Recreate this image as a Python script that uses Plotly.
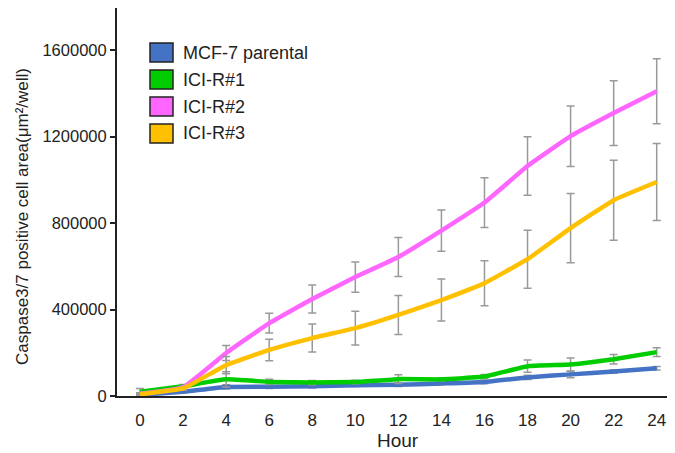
import plotly.graph_objects as go

hours = [0, 2, 4, 6, 8, 10, 12, 14, 16, 18, 20, 22, 24]
series_names = ["MCF-7 parental", "ICI-R#1", "ICI-R#2", "ICI-R#3"]
mcf7 = [5000, 20000, 42000, 43000, 45000, 50000, 52000, 58000, 65000, 86000, 100000, 113000, 128000]
mcf7_err = [5000, 5000, 10000, 8000, 8000, 6000, 8000, 6000, 8000, 10000, 15000, 8000, 8000]
icir1 = [20000, 45000, 77000, 65000, 62000, 65000, 78000, 77000, 90000, 138000, 146000, 170000, 203000]
icir1_err = [15000, 8000, 35000, 12000, 10000, 8000, 20000, 8000, 10000, 28000, 30000, 22000, 20000]
icir2 = [10000, 40000, 199000, 337000, 449000, 550000, 643000, 765000, 895000, 1064000, 1202000, 1309000, 1410000]
icir2_err = [5000, 8000, 35000, 46000, 65000, 70000, 90000, 95000, 115000, 135000, 140000, 150000, 150000]
icir3 = [8000, 35000, 143000, 213000, 268000, 314000, 375000, 444000, 522000, 633000, 777000, 906000, 990000]
icir3_err = [5000, 8000, 40000, 50000, 65000, 78000, 90000, 97000, 104000, 134000, 160000, 185000, 178000]
y_ticks = [0, 400000, 800000, 1200000, 1600000]

colors = ["#4472C4", "#00CC00", "#FF66FF", "#FFC000"]
values = [mcf7, icir1, icir2, icir3]
errors = [mcf7_err, icir1_err, icir2_err, icir3_err]

FONT = "Liberation Sans, Arial, sans-serif"
TXT = "#222222"

# page body has a default 8px margin: the figure starts at (8, 8) in the window
OFF = 8
W, H = 675 - OFF, 453 - OFF
L, R, T, B = 117 - OFF, 0, 8 - OFF, 453 - 396
pw, ph = W - L - R, H - T - B


def px_x(x):
    return (x - OFF - L) / pw


def px_y(y):
    return (H - B - (y - OFF)) / ph


fig = go.Figure()
for name, col, v, e in zip(series_names, colors, values, errors):
    fig.add_trace(go.Scatter(
        x=hours, y=v, name=name, mode="lines",
        line=dict(color=col, width=4.5, shape="spline", smoothing=0.3),
        error_y=dict(type="data", array=e, visible=True, color="#999999",
                     thickness=1.5, width=4),
        showlegend=False,
    ))

# Manual legend (boxes + labels)
shapes = []
annotations = []
for i, (name, col) in enumerate(zip(series_names, colors)):
    y0 = 43 + i * 27
    shapes.append(dict(type="rect", xref="paper", yref="paper",
                       x0=px_x(150), x1=px_x(173), y0=px_y(y0), y1=px_y(y0 + 19),
                       fillcolor=col, line=dict(color="#222222", width=1.5)))
    annotations.append(dict(text=name, xref="paper", yref="paper",
                            x=px_x(181), y=px_y(y0 + 9.5), xanchor="left", yanchor="middle",
                            showarrow=False, font=dict(family=FONT, size=18, color=TXT)))

annotations.append(dict(text="Caspase3/7 positive cell area(μm²/well)", xref="paper", yref="paper",
                        x=px_x(22), y=px_y(217), xanchor="center", yanchor="middle",
                        textangle=-90, showarrow=False,
                        font=dict(family=FONT, size=17, color=TXT)))
annotations.append(dict(text="Hour", xref="paper", yref="paper",
                        x=px_x(398), y=px_y(440), xanchor="center", yanchor="middle",
                        showarrow=False, font=dict(family=FONT, size=19, color=TXT)))

fig.update_layout(
    width=W, height=H,
    margin=dict(l=L, r=R, t=T, b=B, autoexpand=False),
    paper_bgcolor="white", plot_bgcolor="white",
    font=dict(family=FONT, color=TXT),
    shapes=shapes, annotations=annotations,
    xaxis=dict(range=[-1.07, 24.85], tickvals=hours, ticktext=[str(h) for h in hours],
               showgrid=False, zeroline=False, showline=True, linecolor="#222222", linewidth=2,
               ticks="", ticklabelstandoff=8, tickfont=dict(size=17, family=FONT, color=TXT)),
    yaxis=dict(range=[0, 1795000], tickvals=y_ticks, ticktext=[str(t) for t in y_ticks],
               showgrid=False, zeroline=False, showline=True, linecolor="#222222", linewidth=2,
               ticks="outside", ticklen=5, tickwidth=1.5, tickcolor="#222222",
               tickfont=dict(size=16.5, family=FONT, color=TXT)),
)

fig.write_html("out.html")
